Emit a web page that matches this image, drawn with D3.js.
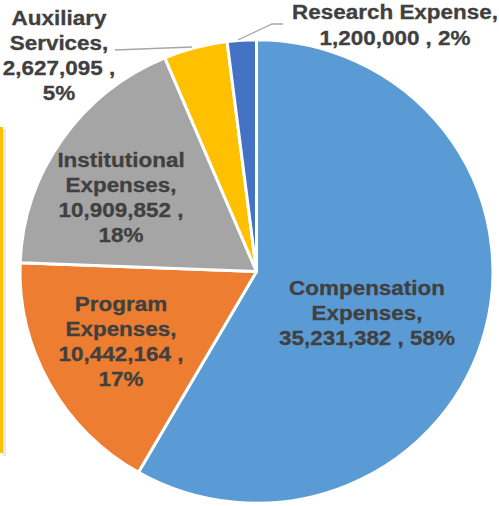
<!DOCTYPE html>
<html>
<head>
<meta charset="utf-8">
<script src="https://cdn.jsdelivr.net/npm/d3@7"></script>
<style>
  body { margin: 0; background: #fff; }
  svg { display: block; font-family: "Liberation Sans", Arial, sans-serif; }
</style>
</head>
<body>
<script>
const width = 499,
  height = 506;

// chart data
const categories = ['Compensation Expenses', 'Program Expenses', 'Institutional Expenses', 'Auxiliary Services', 'Research Expense'];
const values = [35231382, 10442164, 10909852, 2627095, 1200000];
const percents = ['58%', '17%', '18%', '5%', '2%'];
const colors = ['#5b9bd5', '#ed7d31', '#a5a5a5', '#ffc000', '#4472c4'];

// label lines as shown on the chart
const labelLines = [
  ['Compensation', 'Expenses,', '35,231,382 , 58%'],
  ['Program', 'Expenses,', '10,442,164 ,', '17%'],
  ['Institutional', 'Expenses,', '10,909,852 ,', '18%'],
  ['Auxiliary', 'Services,', '2,627,095 ,', '5%'],
  ['Research Expense,', '1,200,000 , 2%']
];
// label anchor (centre x, first baseline y)
const labelPos = [[367, 295], [121, 311], [121, 167], [59, 25], [395, 19]];

const cx = 256.5, cy = 271.5, radius = 236.5;

const svg = d3.select('body').append('svg')
  .attr('width', width)
  .attr('height', height);

// partial legend box cut off on the left edge
svg.append('line')
  .attr('x1', 4.5).attr('x2', 4.5).attr('y1', 129).attr('y2', 456)
  .attr('stroke', '#e8e8e8').attr('stroke-width', 3);
svg.append('line')
  .attr('x1', 1.5).attr('x2', 1.5).attr('y1', 127).attr('y2', 453)
  .attr('stroke', '#ffc000').attr('stroke-width', 3);

const pie = d3.pie().sort(null).value(d => d);
const arcs = pie(values);
const arc = d3.arc().innerRadius(0).outerRadius(radius);

const g = svg.append('g').attr('transform', `translate(${cx},${cy}) scale(1,0.98)`);

g.selectAll('path')
  .data(arcs)
  .join('path')
  .attr('d', arc)
  .attr('fill', (d, i) => colors[i])
  .attr('stroke', '#fff')
  .attr('stroke-width', 3)
  .attr('stroke-linejoin', 'round');

// leader lines for outside labels
const leaders = [
  [[115, 50], [192, 47]],
  [[238, 40], [272, 24], [283, 24]]
];
svg.selectAll('polyline.leader')
  .data(leaders)
  .join('polyline')
  .attr('class', 'leader')
  .attr('points', d => d.map(p => p.join(',')).join(' '))
  .attr('fill', 'none')
  .attr('stroke', '#a6a6a6')
  .attr('stroke-width', 1.3);

const label = svg.selectAll('text.label')
  .data(labelLines)
  .join('text')
  .attr('class', 'label')
  .attr('text-anchor', 'middle')
  .attr('font-size', 21)
  .attr('font-weight', 'bold')
  .attr('fill', '#404040')
  .attr('stroke', '#404040')
  .attr('stroke-width', 0.3)
  .attr('transform', (d, i) => `translate(${labelPos[i][0]},${labelPos[i][1]}) scale(1.07,1)`);

label.selectAll('tspan')
  .data((d, i) => d.map(t => ({ t, i })))
  .join('tspan')
  .attr('x', 0)
  .attr('dy', (d, j) => j === 0 ? 0 : (d.i === 4 ? 26 : 25))
  .text(d => d.t);
</script>
</body>
</html>
